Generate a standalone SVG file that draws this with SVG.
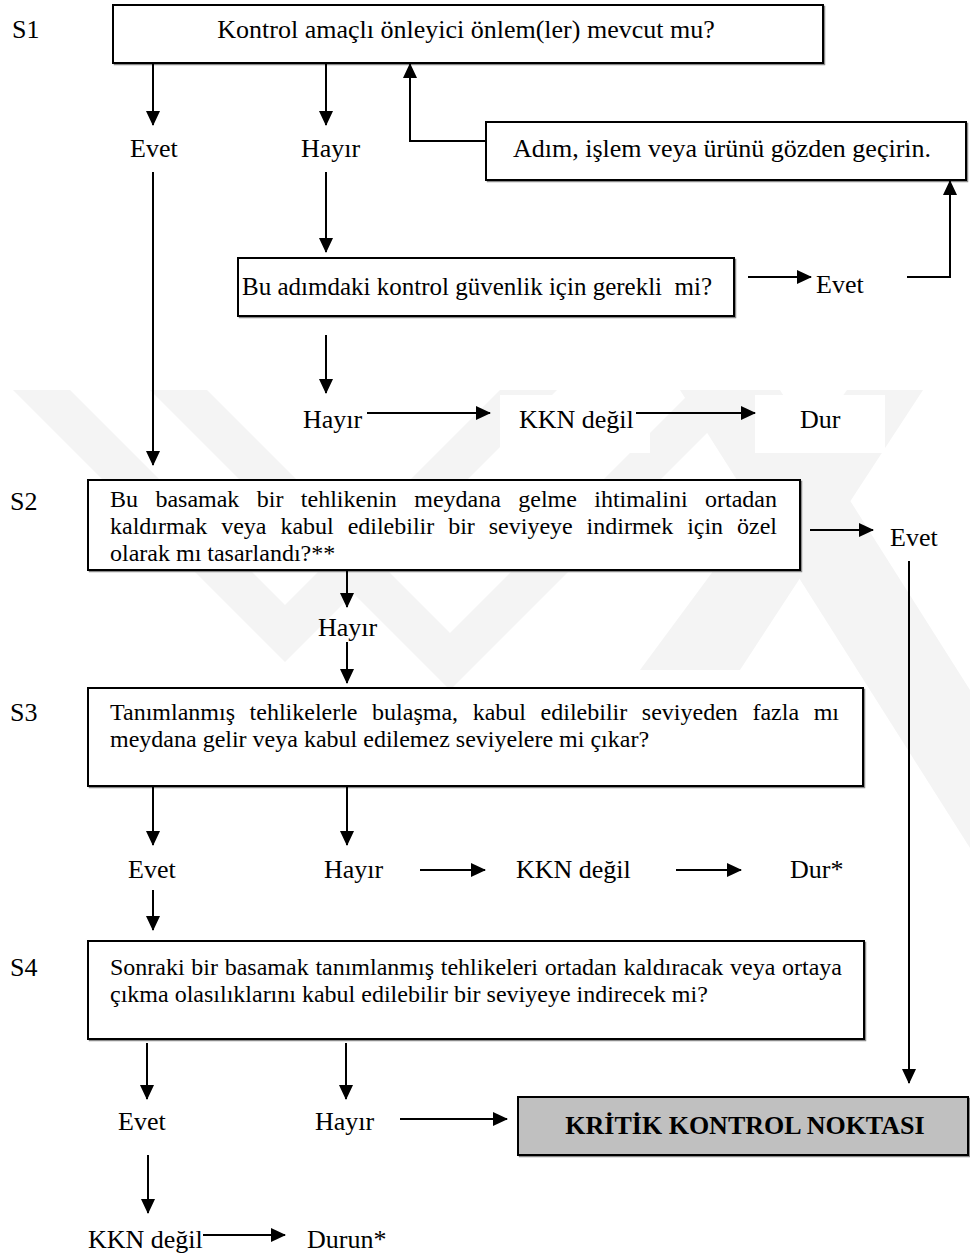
<svg xmlns="http://www.w3.org/2000/svg" width="970" height="1254" viewBox="0 0 970 1254">
<defs>
<marker id="ah" markerWidth="15" markerHeight="14" refX="14" refY="7" orient="auto" markerUnits="userSpaceOnUse"><path d="M0,0 L15,7 L0,14 z" fill="#000"/></marker>
<style>
.t{font-family:"Liberation Serif","Times New Roman",serif;font-size:26px;fill:#000}
.s{font-size:24px}
.box{fill:#fff;stroke:#000;stroke-width:2}
.sh{fill:none;stroke:#8a8a8a;stroke-width:1.5}
.c{fill:none;stroke:#000;stroke-width:2;marker-end:url(#ah)}
.wm{fill:#f4f4f4}
.wb{fill:#fff}
</style>
</defs>
<rect width="970" height="1254" fill="#fff"/>
<g id="watermark">
<polygon class="wm" points="13,390 70,390 285,605 500,390 557,390 285,662"/>
<polygon class="wm" points="150,390 207,390 450,633 693,390 750,390 450,690"/>
<polygon class="wm" points="680,390 780,390 970,690 970,848"/>
<polygon class="wm" points="847,390 923,390 740,670 640,670"/>
</g>
<g id="labels-s">
<text class="t" x="12" y="38">S1</text>
<text class="t" x="10" y="510">S2</text>
<text class="t" x="10" y="721">S3</text>
<text class="t" x="10" y="976">S4</text>
</g>
<g id="n-s1"><rect class="sh" x="114.5" y="6.5" width="710" height="58"/><rect class="box" x="113" y="5" width="710" height="58"/><text class="t" x="466" y="38" text-anchor="middle">Kontrol amaçlı önleyici önlem(ler) mevcut mu?</text></g>
<g id="n-adim"><rect class="sh" x="487.5" y="123.5" width="480" height="58"/><rect class="box" x="486" y="122" width="480" height="58"/><text class="t" x="722" y="157" text-anchor="middle">Adım, işlem veya ürünü gözden geçirin.</text></g>
<g id="n-bu"><rect class="sh" x="239.5" y="259.5" width="496" height="58"/><rect class="box" x="238" y="258" width="496" height="58"/><text class="t" x="242" y="295" style="font-size:25px">Bu adımdaki kontrol güvenlik için gerekli&#160; mi?</text></g>
<g id="n-s2"><rect class="sh" x="89.5" y="481.5" width="712" height="90"/><rect class="box" x="88" y="480" width="712" height="90"/>
<text class="t s" x="110" y="507" word-spacing="11.4">Bu basamak bir tehlikenin meydana gelme ihtimalini ortadan</text>
<text class="t s" x="110" y="534" word-spacing="7.9">kaldırmak veya kabul edilebilir bir seviyeye indirmek için özel</text>
<text class="t s" x="110" y="561">olarak mı tasarlandı?**</text></g>
<g id="n-s3"><rect class="sh" x="89.5" y="689.5" width="775" height="98"/><rect class="box" x="88" y="688" width="775" height="98"/>
<text class="t s" x="110" y="720" word-spacing="8.6">Tanımlanmış tehlikelerle bulaşma, kabul edilebilir seviyeden fazla mı</text>
<text class="t s" x="110" y="747">meydana gelir veya kabul edilemez seviyelere mi çıkar?</text></g>
<g id="n-s4"><rect class="sh" x="89.5" y="942.5" width="776" height="98"/><rect class="box" x="88" y="941" width="776" height="98"/>
<text class="t s" x="110" y="975" word-spacing="0.7">Sonraki bir basamak tanımlanmış tehlikeleri ortadan kaldıracak veya ortaya</text>
<text class="t s" x="110" y="1002">çıkma olasılıklarını kabul edilebilir bir seviyeye indirecek mi?</text></g>
<g id="n-kkn"><rect class="sh" x="519.5" y="1098.5" width="450" height="58"/><rect x="518" y="1097" width="450" height="58" fill="#c0c0c0" stroke="#000" stroke-width="2"/><text class="t" x="745" y="1134" text-anchor="middle" font-weight="bold">KRİTİK KONTROL NOKTASI</text></g>
<g id="n-evet1"><text class="t" x="130" y="157">Evet</text></g>
<g id="n-hayir1"><text class="t" x="301" y="157">Hayır</text></g>
<g id="n-evet2"><text class="t" x="816" y="293">Evet</text></g>
<g id="n-hayir2"><text class="t" x="303" y="428">Hayır</text></g>
<g id="n-kkndegil1"><rect class="wb" x="500" y="395" width="150" height="58"/><text class="t" x="519" y="428">KKN değil</text></g>
<g id="n-dur1"><rect class="wb" x="755" y="395" width="130" height="58"/><text class="t" x="800" y="428">Dur</text></g>
<g id="n-evet3"><text class="t" x="890" y="546">Evet</text></g>
<g id="n-hayir3"><text class="t" x="318" y="636">Hayır</text></g>
<g id="n-evet4"><text class="t" x="128" y="878">Evet</text></g>
<g id="n-hayir4"><text class="t" x="324" y="878">Hayır</text></g>
<g id="n-kkndegil2"><text class="t" x="516" y="878">KKN değil</text></g>
<g id="n-dur2"><text class="t" x="790" y="878">Dur*</text></g>
<g id="n-evet5"><text class="t" x="118" y="1130">Evet</text></g>
<g id="n-hayir5"><text class="t" x="315" y="1130">Hayır</text></g>
<g id="n-kkndegil3"><text class="t" x="88" y="1248">KKN değil</text></g>
<g id="n-durun"><text class="t" x="307" y="1248">Durun*</text></g>
<g id="connectors">
<path class="c" d="M153,63 V125"/>
<path class="c" d="M326,63 V125"/>
<path class="c" d="M153,172 V465"/>
<path class="c" d="M326,172 V252"/>
<path class="c" d="M748,277 H811"/>
<path class="c" d="M907,277 H950 V181"/>
<path class="c" d="M486,141 H410 V64"/>
<path class="c" d="M326,335 V393"/>
<path class="c" d="M367,413 H490"/>
<path class="c" d="M636,413 H755"/>
<path class="c" d="M810,530 H873"/>
<path class="c" d="M909,561 V1083"/>
<path class="c" d="M347,570 V607"/>
<path class="c" d="M347,642 V683"/>
<path class="c" d="M153,786 V845"/>
<path class="c" d="M347,786 V845"/>
<path class="c" d="M420,870 H485"/>
<path class="c" d="M676,870 H741"/>
<path class="c" d="M153,890 V930"/>
<path class="c" d="M147,1043 V1099"/>
<path class="c" d="M346,1043 V1099"/>
<path class="c" d="M400,1119 H507"/>
<path class="c" d="M148,1155 V1213"/>
<path class="c" d="M203,1235 H285"/>
</g>
</svg>
